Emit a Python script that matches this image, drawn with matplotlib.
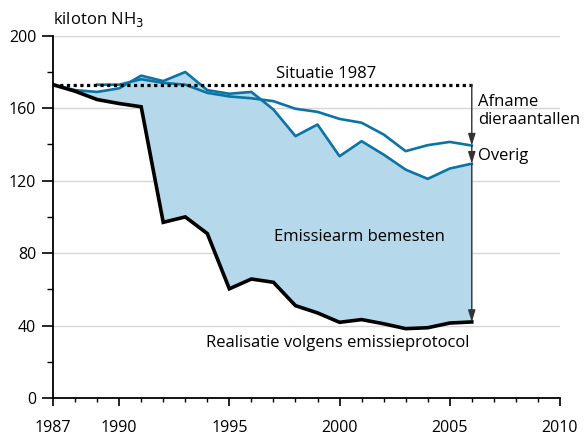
import numpy as np
import matplotlib.pyplot as plt

plt.rcParams['font.family'] = ['Open Sans', 'DejaVu Sans']

# jaartallen en emissies (kiloton NH3)
jaren = np.arange(1987, 2007)
overig = [173, 170, 169, 171, 178, 175, 180, 170, 168, 169,
          159.3, 144.6, 151, 133.5, 141.8, 134.4, 126.1, 121, 126.7, 129.4]
jaren_afname = np.arange(1989, 2007)
afname = [173, 173, 176, 174, 173, 168.5, 166.5, 165.5, 163.9, 159.7,
          158, 154.1, 152, 145.5, 136.3, 139.6, 141.4, 139.4]
realisatie = [173, 169.4, 164.8, 162.6, 160.8, 97, 100, 90.8, 60.3, 65.7,
              63.9, 51, 47, 41.8, 43.3, 41, 38.3, 38.8, 41.4, 42]
situatie_1987 = 173

blauw = '#0b74a5'
lichtblauw = '#b5d8eb'

fig = plt.figure(figsize=(5.84, 4.38), dpi=100)
ax = fig.add_axes([0.0908, 0.0913, 0.868, 0.827])

# rasterlijnen
for y in [40, 80, 120, 160, 200]:
    ax.axhline(y, color='#d6d6d6', lw=1, zorder=0)

ax.fill_between(jaren, realisatie, overig, color=lichtblauw, lw=0, zorder=1)
ax.plot(jaren, overig, color=blauw, lw=1.9, zorder=3)
ax.plot(jaren_afname, afname, color=blauw, lw=1.9, zorder=3)
ax.plot(jaren, realisatie, color='black', lw=2.6, zorder=4, solid_joinstyle='miter')
ax.plot([1987, 2006], [situatie_1987, situatie_1987], color='black', lw=2.3,
        linestyle=(0, (1, 1.1)), zorder=5)

# pijlen bij 2006
punten = [situatie_1987, afname[-1], overig[-1], realisatie[-1]]
for boven, onder in zip(punten[:-1], punten[1:]):
    ax.annotate('', xy=(2006, onder), xytext=(2006, boven),
                arrowprops=dict(arrowstyle='-|>,head_length=0.7,head_width=0.22',
                                color='#333333', lw=1, shrinkA=0, shrinkB=0),
                zorder=6)

fs = 12
ax.text(1987, 204, 'kiloton NH$_3$', fontsize=fs, ha='left', va='bottom')
ax.text(1999.4, 174.5, 'Situatie 1987', fontsize=fs, ha='center', va='bottom')
ax.text(2006.3, 158.5, 'Afname\ndieraantallen', fontsize=fs, ha='left', va='center',
        linespacing=1.2)
ax.text(2006.3, 133.4, 'Overig', fontsize=fs, ha='left', va='center')
ax.text(2000.9, 89, 'Emissiearm bemesten', fontsize=fs, ha='center', va='center')
ax.text(1999.9, 30.6, 'Realisatie volgens emissieprotocol', fontsize=fs,
        ha='center', va='center')

ax.set_xlim(1987, 2010)
ax.set_ylim(0, 200)
ax.set_xticks([1987, 1990, 1995, 2000, 2005, 2010])
ax.set_xticks(np.arange(1987, 2011), minor=True)
ax.set_yticks(np.arange(0, 201, 40))
ax.set_yticks(np.arange(20, 200, 40), minor=True)
ax.tick_params(axis='x', which='major', length=6, width=1.2, pad=10, labelsize=11.5)
ax.tick_params(axis='x', which='minor', length=3, width=1)
ax.tick_params(axis='y', which='major', length=8, width=1.2, pad=4, labelsize=11.5)
ax.tick_params(axis='y', which='minor', length=4, width=1)

for s in ['top', 'right']:
    ax.spines[s].set_visible(False)
for s in ['left', 'bottom']:
    ax.spines[s].set_linewidth(1.3)

plt.savefig('out.png', dpi=100)
